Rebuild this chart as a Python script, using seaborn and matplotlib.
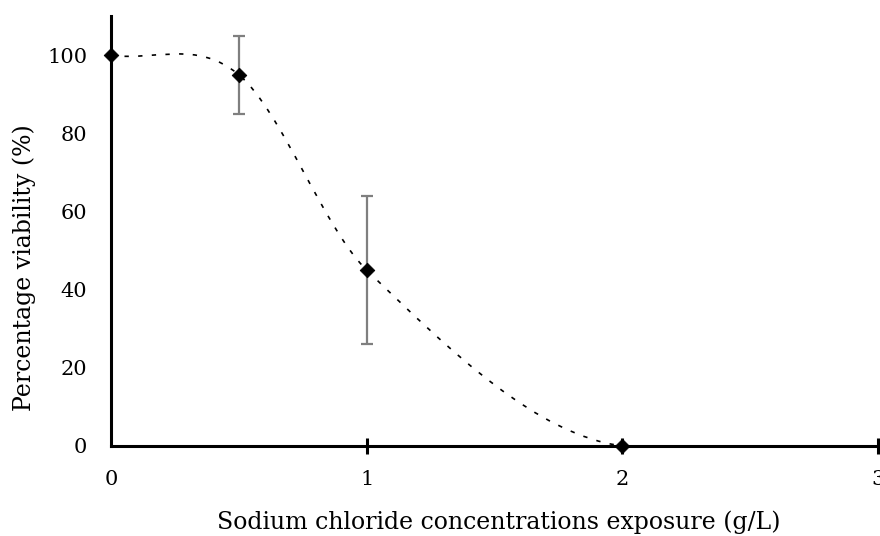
import numpy as np
import pandas as pd
import matplotlib
matplotlib.use("Agg")
import matplotlib.pyplot as plt
from matplotlib.path import Path
from matplotlib.patches import PathPatch
import seaborn as sns

# Sodium chloride exposure (g/L) and cell viability (%)
concentration = [0, 0.5, 1, 2]
viability = [100, 95, 45, 0]
err_low = [0, 10, 19, 0]
err_high = [0, 10, 19, 0]

x_ticks = [0, 1, 2, 3]
y_ticks = [0, 20, 40, 60, 80, 100]

sns.set_theme(style="white")
plt.rcParams["font.family"] = ["DejaVu Serif", "Liberation Serif"]

df = pd.DataFrame({"conc": concentration, "viab": viability})

fig = plt.figure(figsize=(8.8, 5.36), dpi=100)
ax = fig.add_axes([0.126, 0.168, 0.872, 0.802])


def smooth_path(xs, ys):
    """Piecewise cubic Hermite curve through the points, as Bezier segments."""
    xs = np.asarray(xs, float)
    ys = np.asarray(ys, float)
    h = np.diff(xs)
    d = np.diff(ys) / h
    m = np.empty_like(ys)
    m[1:-1] = (ys[2:] - ys[:-2]) / (xs[2:] - xs[:-2])
    m0 = ((2 * h[0] + h[1]) * d[0] - h[0] * d[1]) / (h[0] + h[1])
    mn = ((2 * h[-1] + h[-2]) * d[-1] - h[-1] * d[-2]) / (h[-1] + h[-2])
    m[0] = m0 if np.sign(m0) == np.sign(d[0]) else d[0]
    m[-1] = mn if np.sign(mn) == np.sign(d[-1]) else d[-1]
    verts = [(xs[0], ys[0])]
    codes = [Path.MOVETO]
    for i in range(len(xs) - 1):
        k = h[i] / 3.0
        verts += [(xs[i] + k, ys[i] + m[i] * k),
                  (xs[i + 1] - k, ys[i + 1] - m[i + 1] * k),
                  (xs[i + 1], ys[i + 1])]
        codes += [Path.CURVE4] * 3
    return Path(verts, codes)


# smoothed dotted trend line
curve = PathPatch(smooth_path(concentration, viability), fill=False,
                  edgecolor="black", linewidth=1.2,
                  linestyle=(0, (2.6, 5.6)), zorder=2)
ax.add_patch(curve)

# error bars where replicates exist
ax.errorbar(concentration[1:3], viability[1:3],
            yerr=[err_low[1:3], err_high[1:3]], fmt="none",
            ecolor="#7f7f7f", elinewidth=1.6, capsize=4.3, capthick=1.6,
            zorder=3)

sns.scatterplot(data=df, x="conc", y="viab", marker="D", s=55,
                color="black", edgecolor="black", ax=ax, zorder=4,
                clip_on=False)

ax.set_xlim(0, 3)
ax.set_ylim(0, 110)
ax.set_xticks(x_ticks)
ax.set_yticks(y_ticks)
ax.set_xticklabels([str(v) for v in x_ticks], fontsize=15)
ax.set_yticklabels([str(v) for v in y_ticks], fontsize=15)

for side in ["top", "right"]:
    ax.spines[side].set_visible(False)
for side in ["left", "bottom"]:
    ax.spines[side].set_linewidth(2.2)
    ax.spines[side].set_color("black")

ax.tick_params(axis="x", bottom=True, direction="inout", length=12,
               width=2.2, color="black", pad=11.5, labelcolor="black")
ax.tick_params(axis="y", left=False, length=0, pad=17, labelcolor="black")
ax.xaxis.get_major_ticks()[0].tick1line.set_visible(False)
for t in ax.xaxis.get_major_ticks():
    t.tick1line.set_clip_on(False)

ax.set_xlabel("Sodium chloride concentrations exposure (g/L)", fontsize=17,
              color="black", va="center")
ax.set_ylabel("Percentage viability (%)", fontsize=17, color="black",
              va="center")
ax.xaxis.set_label_coords(0.506, -0.177)
ax.yaxis.set_label_coords(-0.113, 0.414)

fig.savefig("out.png", dpi=100)
